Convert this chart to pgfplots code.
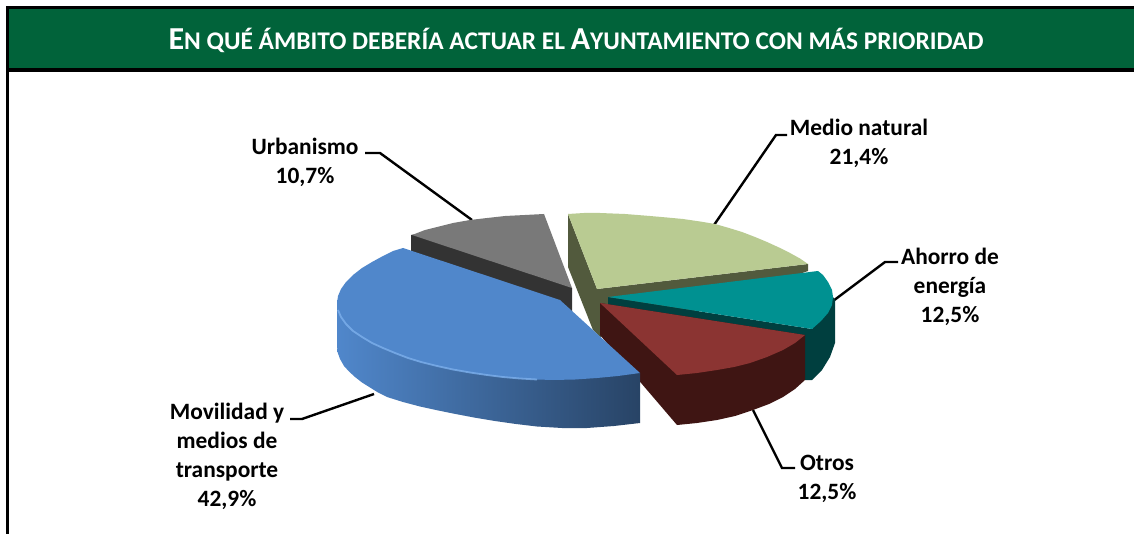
\documentclass[border=0pt]{standalone}
\usepackage{fontspec}
\setmainfont{Carlito}
\usepackage{pgfplots}
\pgfplotsset{compat=1.18}

\definecolor{banner}{HTML}{01633A}
\definecolor{bluetop}{HTML}{5087CB}
\definecolor{bluehi}{HTML}{7DB0EC}
\definecolor{grayside}{HTML}{333333}
\definecolor{graytop}{HTML}{797979}
\definecolor{greenside}{HTML}{525A3D}
\definecolor{greentop}{HTML}{B9CB92}
\definecolor{tealside}{HTML}{003F3F}
\definecolor{tealtop}{HTML}{009191}
\definecolor{redside}{HTML}{3F1513}
\definecolor{redtop}{HTML}{8B3432}

\newcommand{\sm}[1]{{\fontsize{12.7}{14}\selectfont #1}}

\pgfplotsset{
  face/.style={draw=none,fill=#1,no markers,forget plot},
  leader/.style={black,line width=1.2pt,no markers,line join=miter,forget plot},
  frame/.style={black,line width=1.7pt,no markers,forget plot},
}

\begin{document}
\begin{tikzpicture}
\begin{axis}[
  width=567pt,height=267pt,scale only axis,
  xmin=0,xmax=1134,ymin=0,ymax=534,y dir=reverse,
  hide axis,clip=true,
]
% page + banner
\addplot[face=white] coordinates {(0,0)(1134,0)(1134,534)(0,534)};
\addplot[face=banner] coordinates {(7,8)(1134,8)(1134,69)(7,69)};
\addplot[frame] coordinates {(7.5,534)(7.5,7.5)(1134,7.5)};
\addplot[frame] coordinates {(7,70)(1134,70)};

% leader lines
\addplot[leader] coordinates {(365,153)(380,153)(472,220)};
\addplot[leader] coordinates {(787,135)(776,135)(714,225)};
\addplot[leader] coordinates {(898,262)(885,262)(833,301)};
\addplot[leader] coordinates {(795,468)(782,468)(753,410)};
\addplot[leader] coordinates {(290,419)(302,419)(374,394)};

% Urbanismo 10,7
\addplot[face=grayside] coordinates {(411,235)(411,252)(560,303)(572,312)(572,288)(560,280)(430,232)};
\addplot[face=graytop] coordinates {(412,235)(425,230)(437,227)(453,223)(470,220)(487,218)(505,216)(525,215)(544,214)(572,288)};

% Medio natural 21,4
\addplot[face=greenside] coordinates {(568,214)(568,267)(593,330)(600,337)(640,330)(808,271)(808,264)(597,289)};
\addplot[face=greentop] coordinates {(568,214)(584,213)(600,213)(625,214)(650,216)(667,217.5)(683,219)(700,221.5)(715,224)(729,228)(742,232)(755,237)(767,242)(779,247.5)(790,253)(800,258.5)(808,264)(597,289)};

% Ahorro de energia 12,5
\addplot[face=tealside] coordinates {(608,297)(608,305)(805,337)(805,380)(812,380)(822,370)(830,357)(835,343)(835,300)(833,297)(812,329)};
\addplot[face=tealtop] coordinates {(608,297)(818,271)(823,275)(828,282)(832,290)(833,297)(832,305)(828,313)(821,321)(812,329)};

% Otros 12,5
\addplot[face=redside] coordinates {(600,303)(600,335)(677,425)(697,423)(717,420)(735,416)(753,410)(769,404)(783,397)(795,389)(805,380)(805,335)};
\addplot[face=redtop] coordinates {(600,303)(805,335)(795,343)(783,350)(767,357)(750,363)(734,367)(717,370)(697,373)(677,375)};

% Movilidad y medios de transporte 42,9
\addplot[draw=none,no markers,forget plot,left color=bluetop,middle color=bluetop!78!black,right color=bluetop!50!black]
  coordinates {(337,300)(337,345)(337.5,352)(340,359)(344,366)(349,371.5)(355,377)(362,382.5)(370,387.5)(378,392.5)(387,397)(403,402)(420,406.5)(436,410)(453,413.5)(474,417.5)(495,421)(516,424)(537,426.5)(562,428)(587,428)(614,426)(640,423)(640,373)};
\addplot[face=bluetop] coordinates {(403,248)(393,251)(383,256)(372,262)(362,268)(353,275)(346,282)(341,289)(338,296)(337,303)(338,310)(341,317)(346,324)(353,331)(362,337)(372,343)(383,348)(395,353)(408,358)(421,362)(437,366)(453,369.5)(470,372.5)(487,375)(503,377)(520,378.5)(537,379.5)(553,380)(575,379.5)(597,378)(618,376)(640,373)(560,300)};
\addplot[bluehi,line width=0.9pt,opacity=0.8,no markers,forget plot] coordinates {(338,310)(341,317)(346,324)(353,331)(362,337)(372,343)(383,348)(395,353)(408,358)(421,362)(437,366)(453,369.5)(470,372.5)(487,375)(503,377)(520,378.5)(537,379.5)};

% labels
\tikzset{lab/.style={align=center,font=\fontsize{11.7}{14.5}\selectfont\bfseries,inner sep=0pt,anchor=center}}
\node[lab] at (axis cs:305,162.5) {Urbanismo\\10,7\%};
\node[lab] at (axis cs:859,143.5) {Medio natural\\21,4\%};
\node[lab] at (axis cs:950,286.5) {Ahorro de\\energía\\12,5\%};
\node[lab] at (axis cs:827,478.5) {Otros\\12,5\%};
\node[lab] at (axis cs:227,456.5) {Movilidad y\\medios de\\transporte\\42,9\%};

\node[text=white,inner sep=0pt,font=\fontsize{16}{18}\selectfont\bfseries] at (axis cs:576,40)
  {E\sm{N QUÉ ÁMBITO DEBERÍA ACTUAR EL }A\sm{YUNTAMIENTO CON MÁS PRIORIDAD}};
\end{axis}
\end{tikzpicture}
\end{document}
